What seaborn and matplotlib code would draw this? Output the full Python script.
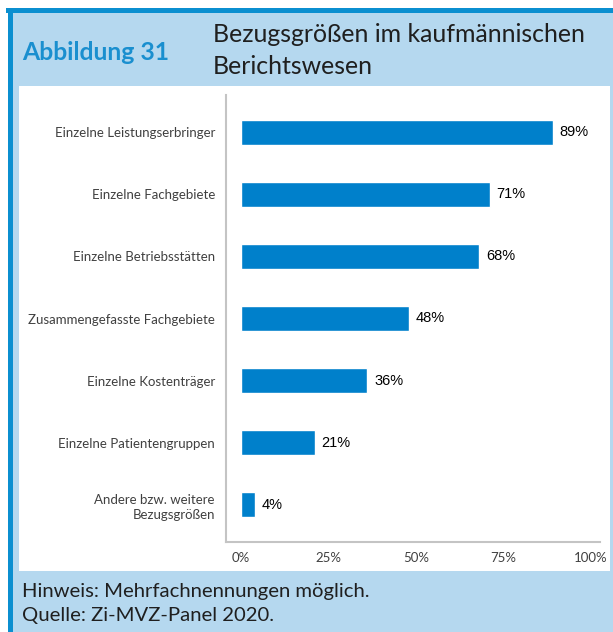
import matplotlib
matplotlib.use("Agg")
import matplotlib.pyplot as plt
import seaborn as sns
import pandas as pd
from matplotlib.patches import Rectangle

categories = [
    "Einzelne Leistungserbringer",
    "Einzelne Fachgebiete",
    "Einzelne Betriebsstätten",
    "Zusammengefasste Fachgebiete",
    "Einzelne Kostenträger",
    "Einzelne Patientengruppen",
    "Andere bzw. weitere\nBezugsgrößen",
]
values = [89, 71, 68, 48, 36, 21, 4]
xticks = [0, 25, 50, 75, 100]
xticklabels = ["0%", "25%", "50%", "75%", "100%"]

df = pd.DataFrame({"cat": categories, "val": values})

sns.set_theme(style="white")
plt.rcParams["font.family"] = ["Lato", "DejaVu Sans"]

W, H = 613, 632
fig = plt.figure(figsize=(W / 100, H / 100), dpi=100)

def px_rect(x0, y0, x1, y1, color, z=0):
    fig.patches.append(Rectangle((x0 / W, 1 - y1 / H), (x1 - x0) / W, (y1 - y0) / H,
                                 transform=fig.transFigure, color=color, zorder=z, lw=0))

light = "#b5d8ef"
border = "#0b8fd0"
px_rect(8, 8, 613, 632, light, 0)
px_rect(19, 86, 610, 571, "white", 1)
px_rect(6, 8, 613, 13, border, 2)
px_rect(8, 8, 13, 632, border, 2)

ax = fig.add_axes([226 / W, 1 - 542 / H, (600 - 226) / W, (542 - 95) / H])
ax.set_zorder(3)
ax.patch.set_alpha(0)
sns.barplot(data=df, x="val", y="cat", orient="h", color="#0080cb", width=0.4,
            saturation=1, ax=ax)
ax.set_xlim(-4.29, 102.57)
ax.set_ylim(6.6, -0.6)
ax.set_xlabel("")
ax.set_ylabel("")
ax.set_xticks(xticks)
ax.set_xticklabels(xticklabels)
for s in ["top", "right"]:
    ax.spines[s].set_visible(False)
for s in ["left", "bottom"]:
    ax.spines[s].set_color("#c4c4c4")
    ax.spines[s].set_linewidth(1.5)
ax.tick_params(axis="both", which="both", length=4, width=1, color="#c4c4c4",
               labelcolor="#404040", labelsize=9.5, pad=4)
ax.tick_params(axis="x", labelsize=9.5, pad=3)
for lbl in ax.get_yticklabels():
    lbl.set_linespacing(1.3)

for i, v in enumerate(values):
    ax.text(v + 2.0, i, f"{v}%", va="center", ha="left", fontsize=10.5,
            family="Liberation Sans", color="black")

fig.text(22 / W, 1 - 52 / H, "Abbildung 31", fontsize=17.8, fontweight="bold",
         color="#1a8fcf", va="center", ha="left")
fig.text(213 / W, 1 - 34 / H, "Bezugsgrößen im kaufmännischen", fontsize=17.9,
         color="#1f1f1f", va="center", ha="left")
fig.text(213 / W, 1 - 67 / H, "Berichtswesen", fontsize=17.9,
         color="#1f1f1f", va="center", ha="left")
fig.text(22 / W, 1 - 592 / H, "Hinweis: Mehrfachnennungen möglich.", fontsize=14.6,
         color="#1f1f1f", va="center", ha="left")
fig.text(22 / W, 1 - 616 / H, "Quelle: Zi-MVZ-Panel 2020.", fontsize=14.6,
         color="#1f1f1f", va="center", ha="left")

fig.savefig("out.png", dpi=100)
